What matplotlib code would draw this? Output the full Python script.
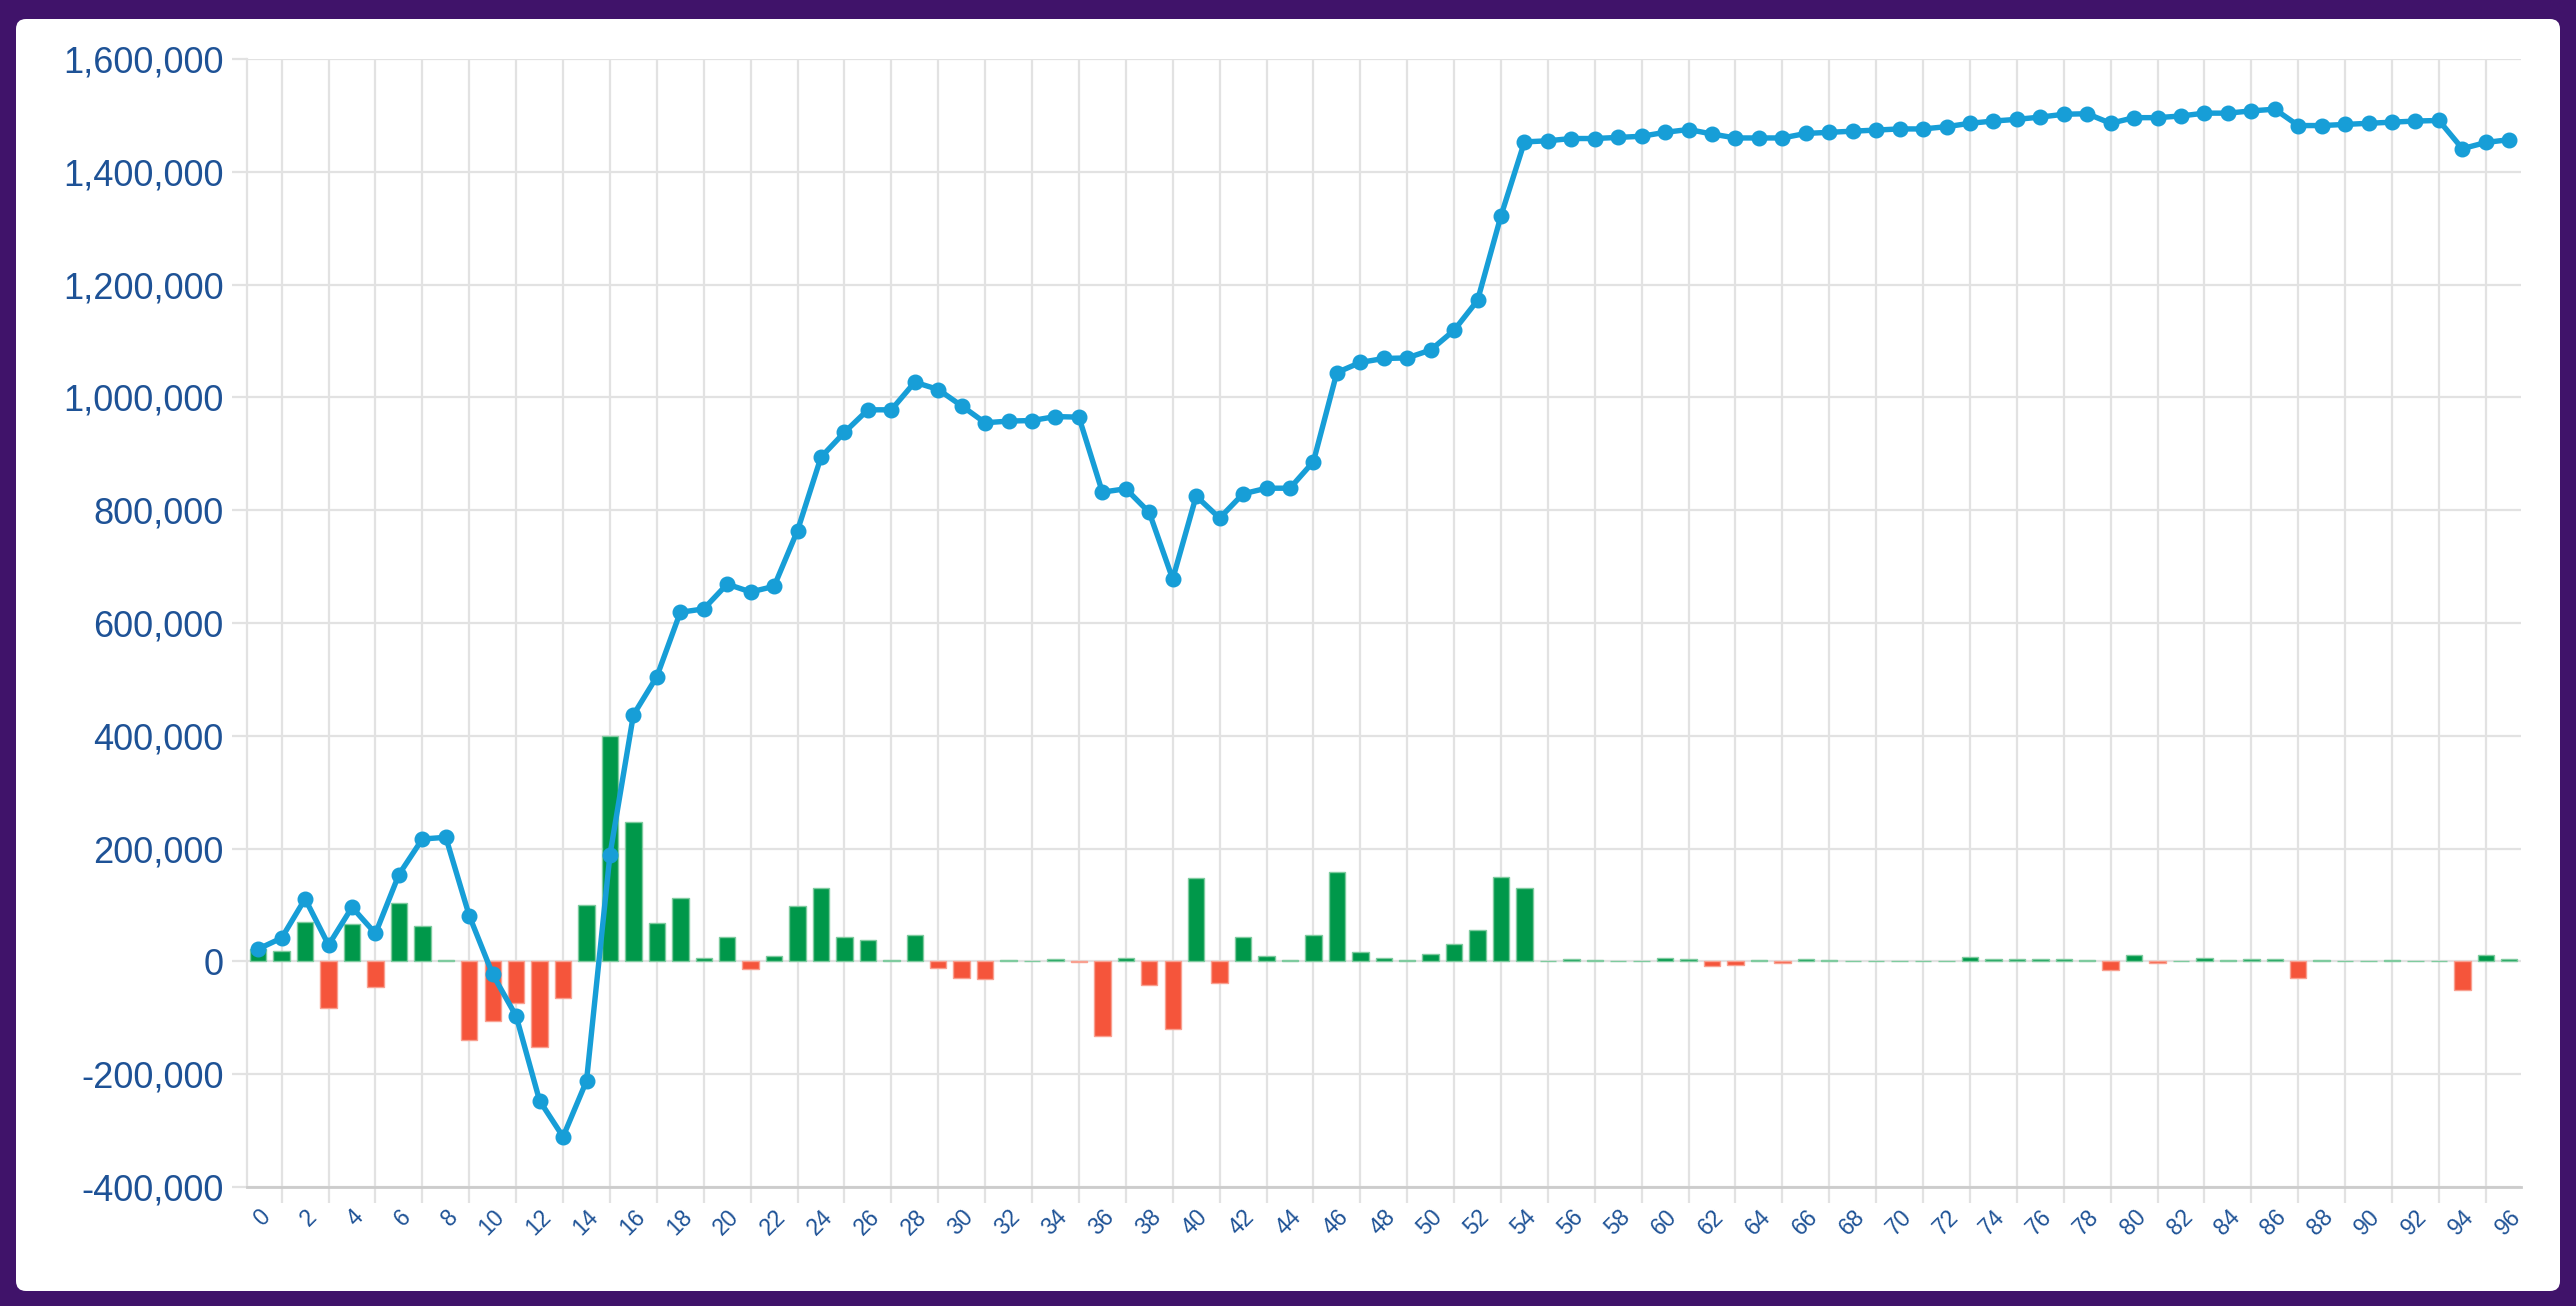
import matplotlib
matplotlib.use('Agg')
import matplotlib.pyplot as plt
from matplotlib.patches import FancyBboxPatch
from matplotlib.transforms import IdentityTransform
from matplotlib.ticker import FuncFormatter

plt.rcParams['font.family'] = ['Liberation Sans', 'DejaVu Sans']

# ---- data ----
days = list(range(97))
daily_change = [
    22000, 19000, 69000, -83000, 66000, -46000, 103000, 63000, 2000, -140000,
    -106000, -74000, -152000, -65000, 100000, 400000, 248000, 68000, 113000, 6000,
    43000, -13000, 9000, 99000, 130000, 44000, 38000, 2000, 47000, -11000,
    -30000, -31000, 3000, 1000, 5000, -1000, -133000, 6000, -42000, -119000,
    147000, -38000, 43000, 9000, 2000, 46000, 158000, 17000, 6500, 2000,
    14000, 31500, 55000, 149000, 130000, 1000, 3500, 2000, 1000, 500,
    6500, 3500, -8000, -7000, 2000, -2000, 5000, 3000, 500, 1000,
    1500, 1500, 1000, 7000, 5000, 4000, 5000, 5000, 2000, -16000,
    11000, -2000, 1000, 6000, 2000, 4000, 3500, -29000, 2000, 1000,
    1500, 2500, 1000, 1000, -50000, 11000, 5000,
]
cumulative = [
    22000, 41500, 111000, 29000, 96000, 49500, 154000, 217000, 220000, 81000,
    -23000, -97000, -247000, -311000, -212000, 189000, 437000, 505000, 619000, 625000,
    669000, 655000, 665000, 764000, 894000, 938000, 978000, 978000, 1027000, 1014000,
    985000, 955000, 958000, 959000, 966000, 965000, 832000, 838000, 796000, 678000,
    825000, 786000, 829000, 839000, 839000, 886000, 1044000, 1062000, 1069000, 1070000,
    1084000, 1119000, 1172000, 1322000, 1453000, 1455000, 1459000, 1459000, 1461000, 1463000,
    1470000, 1475000, 1467000, 1460000, 1460000, 1460000, 1468000, 1470000, 1472000, 1474000,
    1476000, 1476000, 1480000, 1486000, 1490000, 1493000, 1497000, 1502000, 1503000, 1486000,
    1496000, 1496000, 1499000, 1504000, 1504000, 1508000, 1511000, 1482000, 1482000, 1484000,
    1486000, 1488000, 1490000, 1491000, 1441000, 1452000, 1457000,
]
y_ticks = list(range(-400000, 1600001, 200000))
x_label_days = days[::2]

# ---- styling ----
W, H = 2576, 1306
PURPLE = '#40136a'
GRID = '#e2e2e2'
LABEL = '#1e5296'
LINE = '#179ed7'
GREEN = '#00984a'
RED = '#f5553b'

fig = plt.figure(figsize=(W / 100, H / 100), dpi=100, facecolor=PURPLE)
panel = FancyBboxPatch((16, 15), 2544, 1272,
                       boxstyle='round,pad=0,rounding_size=10',
                       transform=IdentityTransform(),
                       facecolor='white', edgecolor='none', zorder=-10)
fig.add_artist(panel)

left, right, top, bottom = 246.5, 2521, 59, 1187
ax = fig.add_axes([left / W, 1 - bottom / H, (right - left) / W, (bottom - top) / H])
ax.set_zorder(5)
ax.patch.set_visible(False)

colors = [GREEN if v >= 0 else RED for v in daily_change]
edges = ['#7fcb9f' if v >= 0 else '#f9a090' for v in daily_change]
ax.bar(days, daily_change, width=0.7, color=colors, edgecolor=edges,
       linewidth=1.0, zorder=2)
ax.plot(days, cumulative, color=LINE, lw=3.9, marker='o', ms=10.5,
        markerfacecolor=LINE, markeredgecolor=LINE, zorder=3)

ax.set_xlim(-0.5, 96.5)
ax.set_ylim(-400000, 1600000)
ax.set_yticks(y_ticks)
ax.yaxis.set_major_formatter(FuncFormatter(lambda v, p: f'{int(v):,}'))

ax.set_xticks(x_label_days)
ax.set_xticklabels([str(d) for d in x_label_days])
ax.set_xticks(days[1::2], minor=True)

ax.grid(axis='y', which='major', color=GRID, lw=1.6, zorder=0)
ax.grid(axis='x', which='major', visible=False)
ax.grid(axis='x', which='minor', color=GRID, lw=1.6, zorder=0)
ax.set_axisbelow(True)

ax.tick_params(axis='x', which='major', length=0, pad=13,
               labelsize=16.5, labelcolor=LABEL)
ax.tick_params(axis='x', which='minor', length=11.5, width=1.6, color=GRID)
ax.tick_params(axis='y', which='major', length=11, width=1.6, color=GRID,
               pad=5.4, labelsize=26, labelcolor=LABEL)
for lab in ax.get_xticklabels():
    lab.set_rotation(45)
    lab.set_ha('right')
    lab.set_va('top')
    lab.set_rotation_mode('anchor')

for s in ('top', 'right'):
    ax.spines[s].set_visible(False)
ax.spines['left'].set_color(GRID)
ax.spines['left'].set_linewidth(1.6)
ax.spines['bottom'].set_color('#cccccc')
ax.spines['bottom'].set_linewidth(2)

fig.savefig('out.png', dpi=100, facecolor=PURPLE)
